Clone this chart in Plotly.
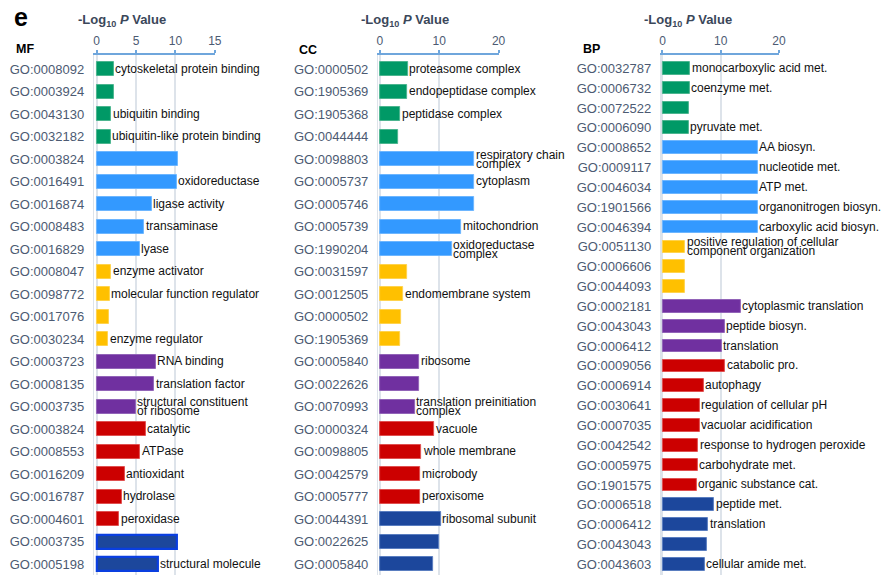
import plotly.graph_objects as go

# ---------------- data ----------------
mf_ids = ["GO:0008092", "GO:0003924", "GO:0043130", "GO:0032182", "GO:0003824",
          "GO:0016491", "GO:0016874", "GO:0008483", "GO:0016829", "GO:0008047",
          "GO:0098772", "GO:0017076", "GO:0030234", "GO:0003723", "GO:0008135",
          "GO:0003735", "GO:0003824", "GO:0008553", "GO:0016209", "GO:0016787",
          "GO:0004601", "GO:0003735", "GO:0005198"]
mf_vals = [2.15, 2.15, 1.85, 1.8, 10.35, 10.15, 7.0, 6.06, 5.44, 1.85,
           1.65, 1.5, 1.45, 7.5, 7.3, 4.95, 6.2, 5.5, 3.55, 3.2,
           2.85, 10.15, 7.8]
mf_labels = ["cytoskeletal protein binding", "", "ubiquitin binding",
             "ubiquitin-like protein binding", "", "oxidoreductase",
             "ligase activity", "transaminase", "lyase", "enzyme activator",
             "molecular function regulator", "", "enzyme regulator",
             "RNA binding", "translation factor",
             "structural constituent\nof ribosome", "catalytic", "ATPase",
             "antioxidant", "hydrolase", "peroxidase", "", "structural molecule"]
mf_groups = ["G"] * 4 + ["B"] * 5 + ["Y"] * 4 + ["P"] * 3 + ["R"] * 5 + ["D"] * 2

cc_ids = ["GO:0000502", "GO:1905369", "GO:1905368", "GO:0044444", "GO:0098803",
          "GO:0005737", "GO:0005746", "GO:0005739", "GO:1990204", "GO:0031597",
          "GO:0012505", "GO:0000502", "GO:1905369", "GO:0005840", "GO:0022626",
          "GO:0070993", "GO:0000324", "GO:0098805", "GO:0042579", "GO:0005777",
          "GO:0044391", "GO:0022625", "GO:0005840"]
cc_vals = [4.7, 4.6, 3.45, 3.05, 15.9, 15.9, 15.85, 13.7, 12.15, 4.65,
           4.0, 3.6, 3.5, 6.7, 6.6, 5.9, 9.2, 7.0, 6.8, 6.8,
           10.3, 10.05, 9.0]
cc_labels = ["proteasome complex", "endopeptidase complex", "peptidase complex", "",
             "respiratory chain\ncomplex", "cytoplasm", "", "mitochondrion",
             "oxidoreductase\ncomplex", "", "endomembrane system", "", "",
             "ribosome", "", "translation preinitiation\ncomplex", "vacuole",
             "whole membrane", "microbody", "peroxisome", "ribosomal subunit", "", ""]
cc_groups = ["G"] * 4 + ["B"] * 5 + ["Y"] * 4 + ["P"] * 3 + ["R"] * 4 + ["D"] * 3

bp_ids = ["GO:0032787", "GO:0006732", "GO:0072522", "GO:0006090", "GO:0008652",
          "GO:0009117", "GO:0046034", "GO:1901566", "GO:0046394", "GO:0051130",
          "GO:0006606", "GO:0044093", "GO:0002181", "GO:0043043", "GO:0006412",
          "GO:0009056", "GO:0006914", "GO:0030641", "GO:0007035", "GO:0042542",
          "GO:0005975", "GO:1901575", "GO:0006518", "GO:0006412", "GO:0043043",
          "GO:0043603"]
bp_vals = [4.77, 4.66, 4.6, 4.55, 16.35, 16.3, 16.3, 16.3, 16.3, 3.9,
           3.85, 3.8, 13.4, 10.7, 10.2, 10.8, 7.1, 6.4, 6.35, 6.1,
           6.05, 5.9, 8.85, 7.85, 7.6, 7.3]
bp_labels = ["monocarboxylic acid met.", "coenzyme met.", "", "pyruvate met.",
             "AA biosyn.", "nucleotide met.", "ATP met.", "organonitrogen biosyn.",
             "carboxylic acid biosyn.",
             "positive regulation of cellular\ncomponent organization", "", "",
             "cytoplasmic translation", "peptide biosyn.", "translation",
             "catabolic pro.", "autophagy", "regulation of cellular pH",
             "vacuolar acidification", "response to hydrogen peroxide",
             "carbohydrate met.", "organic substance cat.", "peptide met.",
             "translation", "", "cellular amide met."]
bp_groups = ["G"] * 4 + ["B"] * 5 + ["Y"] * 3 + ["P"] * 3 + ["R"] * 7 + ["D"] * 4

panel_names = ["MF", "CC", "BP"]
axis_title = "<b>-Log<sub>10</sub> <i>P</i> Value</b>"
mf_ticks = [0, 5, 10, 15]
cc_ticks = [0, 10, 20]
bp_ticks = [0, 10, 20]

# ---------------- style ----------------
W, H = 881, 575
MT = 55
FONT = "Arial, 'Liberation Sans', sans-serif"
fill = {"G": "#009966", "B": "#3399ff", "Y": "#ffc000",
        "P": "#7030a0", "R": "#cc0000", "D": "#1c479c"}
edge = {"G": "#4cb58f", "B": "#6db6ff", "Y": "#ffd34d",
        "P": "#9264b8", "R": "#e05050", "D": "#5a7ec0"}
GO_COLOR = "#4c5a72"
GRID = "#dde3ea"
AXLINE = "#6fa6dc"


def px_x(p):
    return p / W


def px_y(p):
    return 1 - (p - MT) / (H - MT)


panels = [
    dict(ids=mf_ids, vals=mf_vals, labels=mf_labels, groups=mf_groups,
         ticks=mf_ticks, xpx=(92.9, 215.0), xr=[-0.35, 15.0],
         row0=69.3, step=22.5, bw=0.62, name_px=(12, 49), title_px=75,
         special_edge=True),
    dict(ids=cc_ids, vals=cc_vals, labels=cc_labels, groups=cc_groups,
         ticks=cc_ticks, xpx=(380.0, 501.7), xr=[-0.28, 20.0],
         row0=69.3, step=22.5, bw=0.62, name_px=(298, 50), title_px=361,
         special_edge=False),
    dict(ids=bp_ids, vals=bp_vals, labels=bp_labels, groups=bp_groups,
         ticks=bp_ticks, xpx=(665.7, 785.0), xr=[-0.27, 20.0],
         row0=68.3, step=19.84, bw=0.64, name_px=(585, 49), title_px=647,
         special_edge=False),
]

fig = go.Figure()
annotations = []
layout = {}

for k, p in enumerate(panels):
    n = len(p["ids"])
    sfx = "" if k == 0 else str(k + 1)
    xa, ya = "x" + sfx, "y" + sfx
    idx = list(range(n))
    fcol = [fill[g] for g in p["groups"]]
    if p["special_edge"]:
        ecol = ["#0a3fe0" if g == "D" else edge[g] for g in p["groups"]]
        ewid = [2.2 if g == "D" else 1 for g in p["groups"]]
    else:
        ecol = [edge[g] for g in p["groups"]]
        ewid = [1 for g in p["groups"]]
    fig.add_trace(go.Bar(
        x=p["vals"], y=idx, orientation="h", width=p["bw"],
        marker=dict(color=fcol, line=dict(color=ecol, width=ewid)),
        xaxis=xa, yaxis=ya, showlegend=False, hoverinfo="skip"))

    top_val = -(p["row0"] - MT) / p["step"]
    bot_val = top_val + (H - MT) / p["step"]

    layout["xaxis" + sfx] = dict(
        domain=[px_x(p["xpx"][0]), px_x(p["xpx"][1])],
        range=p["xr"], side="top", anchor=ya,
        tickvals=p["ticks"], ticktext=[str(t) for t in p["ticks"]],
        tickfont=dict(family=FONT, size=12, color=GO_COLOR),
        ticks="outside", ticklen=3, tickwidth=1.5, tickcolor=AXLINE,
        showline=True, linecolor=AXLINE, linewidth=1.5,
        showgrid=True, gridcolor=GRID, gridwidth=1.5,
        zeroline=False, fixedrange=True)
    layout["yaxis" + sfx] = dict(
        domain=[0, 1], range=[bot_val, top_val], anchor=xa,
        tickvals=idx, ticktext=p["ids"],
        tickfont=dict(family=FONT, size=13, color=GO_COLOR),
        ticks="", ticklabelstandoff=6,
        showline=True, linecolor=GRID, linewidth=1.3,
        showgrid=False, zeroline=False, fixedrange=True)

    # bar labels
    for i, (v, lab) in enumerate(zip(p["vals"], p["labels"])):
        if not lab:
            continue
        lines = lab.split("\n")
        if len(lines) == 1:
            shifts = [0.5]
        else:
            shifts = [4.6, -4.4]
        for line, sh in zip(lines, shifts):
            annotations.append(dict(
                x=v, y=i, xref=xa, yref=ya, text=line, showarrow=False,
                xanchor="left", yanchor="middle", xshift=0.5, yshift=sh,
                borderpad=0,
                font=dict(family=FONT, size=12, color="#111111")))

    # panel name
    annotations.append(dict(
        x=px_x(p["name_px"][0]), y=px_y(p["name_px"][1]), xref="paper", yref="paper",
        text="<b>" + panel_names[k] + "</b>", showarrow=False,
        xanchor="left", yanchor="middle",
        font=dict(family=FONT, size=12.5, color="#000000")))
    # axis title
    annotations.append(dict(
        x=px_x(p["title_px"]), y=px_y(20.7), xref="paper", yref="paper",
        text=axis_title, showarrow=False, xanchor="left", yanchor="middle",
        font=dict(family=FONT, size=13, color="#3b475a")))

annotations.append(dict(
    x=px_x(10), y=px_y(17), xref="paper", yref="paper", text="<b>e</b>",
    showarrow=False, xanchor="left", yanchor="middle",
    font=dict(family=FONT, size=25, color="#000000")))

fig.update_layout(
    width=W, height=H,
    margin=dict(l=0, r=0, t=MT, b=0, pad=0),
    paper_bgcolor="white", plot_bgcolor="white",
    bargap=0, annotations=annotations,
    font=dict(family=FONT),
    **layout)

fig.write_html("out.html", config={"displayModeBar": False})
